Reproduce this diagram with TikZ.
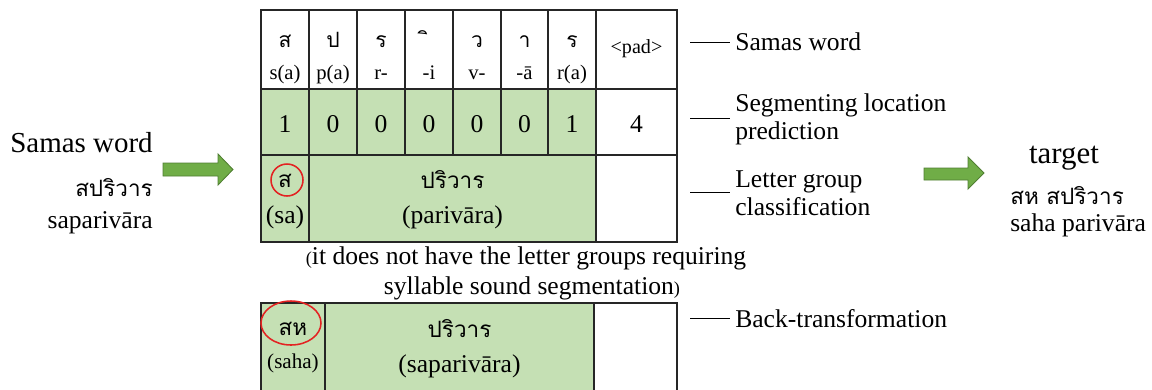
\documentclass[tikz,border=0pt]{standalone}
\usepackage{fontspec}
\setmainfont{Liberation Serif}
\newfontfamily\thai[Script=Thai]{Loma}
\definecolor{cellgreen}{HTML}{C5E0B4}
\definecolor{arrowgreen}{HTML}{70AD47}
\definecolor{arrowedge}{HTML}{507E32}
\definecolor{ringred}{HTML}{E32222}
\begin{document}
\begin{tikzpicture}[x=0.025cm,y=-0.025cm,
  grid/.style={draw=black!85,line width=1.1pt},
  greencell/.style={fill=cellgreen},
  blockarrow/.style={fill=arrowgreen,draw=arrowedge,line width=0.6pt,line join=miter},
  ring/.style={draw=ringred,line width=1.1pt},
  leader/.style={draw=black,line width=0.7pt},
  base/.style={inner sep=0pt,anchor=base},
  roman/.style={base,font=\fontsize{14.7}{16}\selectfont},
  thaiS/.style={base,font=\thai\fontsize{15}{16}\selectfont},
  thaiL/.style={base,font=\thai\fontsize{16}{18}\selectfont},
  big/.style={base,font=\fontsize{18.2}{20}\selectfont},
  label/.style={inner sep=0pt,anchor=west,align=left,font=\fontsize{18.2}{20}\selectfont}]
\clip (0,0) rectangle (1152,389);

% ---- upper table: fills ----
\fill[greencell] (261,89) rectangle (596,242);
% ---- upper table: grid ----
\draw[grid] (261,10) rectangle (677,242);
\draw[grid] (261,89) -- (677,89);
\draw[grid] (261,155) -- (677,155);
\foreach \x in {309,357,405,453,501,548} \draw[grid] (\x,10) -- (\x,155);
\draw[grid] (309,155) -- (309,242);
\draw[grid] (596,10) -- (596,242);

% ---- row 1: letters of the compound ----
\node[thaiS] (l1) at (285,47) {ส};
\node[thaiS] (l2) at (333,47) {ป};
\node[thaiS] (l3) at (381,47) {ร};
\node[thaiS] (l4) at (429,47) {\char"0E34};
\node[thaiS] (l5) at (477,47) {ว};
\node[thaiS] (l6) at (524.5,47) {า};
\node[thaiS] (l7) at (572,47) {ร};
\node[roman] (t1) at (285,79) {s(a)};
\node[roman] (t2) at (333,79) {p(a)};
\node[roman] (t3) at (381,79) {r-};
\node[roman] (t4) at (429,79) {-i};
\node[roman] (t5) at (477,79) {v-};
\node[roman] (t6) at (524.5,79) {-ā};
\node[roman] (t7) at (572,79) {r(a)};
\node[inner sep=0pt,font=\fontsize{14.3}{16}\selectfont] (pad) at (636.5,49) {<pad>};

% ---- row 2: segmenting locations ----
\foreach \x/\v [count=\i] in {285/1,333/0,381/0,429/0,477/0,524.5/0,572/1,636.5/4}
  \node[big] (s\i) at (\x,132) {\v};

% ---- row 3: letter groups ----
\node[thaiL] (g1) at (285,187) {ส};
\node[big] (g1r) at (285,223) {(sa)};
\node[thaiL] (g2) at (452.5,188) {ปริวาร};
\node[big] (g2r) at (452.5,223) {(parivāra)};
\draw[ring] (287,180) circle (16);

% ---- note ----
\node[base,font=\fontsize{18.2}{20}\selectfont] (note1) at (526,264)
  {{\fontsize{13}{14}\selectfont(}it does not have the letter groups requiring};
\node[base,font=\fontsize{18.2}{20}\selectfont] (note2) at (532,294)
  {syllable sound segmentation{\fontsize{13}{14}\selectfont)}};

% ---- lower table ----
\fill[greencell] (261,303) rectangle (594,400);
\draw[grid] (261,400) -- (261,303) -- (677,303) -- (677,400);
\draw[grid] (325,303) -- (325,400);
\draw[grid] (594,303) -- (594,400);
\node[thaiL] (h1) at (293,335) {สห};
\node[base,font=\fontsize{15}{16}\selectfont] (h1r) at (293,368) {(saha)};
\node[thaiL] (h2) at (459.5,337) {ปริวาร};
\node[big] (h2r) at (459.5,372) {(saparivāra)};
\draw[ring] (291,323) ellipse (30 and 22);

% ---- row labels with leader lines ----
\node[label] (lab1) at (735,42) {Samas word};
\node[label] (lab2) at (735,119) {Segmenting location\\prediction};
\node[label] (lab3) at (735,193) {Letter group\\classification};
\node[label] (lab4) at (735,319) {Back-transformation};
\foreach \i/\y in {1/42,2/118,3/192,4/318} {
  \coordinate (lead\i) at (690,\y);
  \draw[leader] (lead\i) -- ([xshift=-0.12cm]lab\i.west |- lead\i);
}

% ---- input ----
\node[inner sep=0pt,anchor=base east,font=\fontsize{20.6}{22}\selectfont] (in1) at (153,152) {Samas word};
\node[inner sep=0pt,anchor=base east,font=\thai\fontsize{16}{18}\selectfont] (in2) at (153,196) {สปริวาร};
\node[inner sep=0pt,anchor=base east,font=\fontsize{18.2}{20}\selectfont] (in3) at (153,228) {saparivāra};
\filldraw[blockarrow] (163,163) -- (218,163) -- (218,154) -- (233,169.5) -- (218,185) -- (218,176) -- (163,176) -- cycle;

% ---- output ----
\filldraw[blockarrow] (924,168) -- (968,168) -- (968,157) -- (984,173) -- (968,189) -- (968,180) -- (924,180) -- cycle;
\node[base,font=\fontsize{22}{24}\selectfont] (out1) at (1064,163) {target};
\node[inner sep=0pt,anchor=base west,font=\thai\fontsize{16}{18}\selectfont] (out2) at (1010,204) {สห สปริวาร};
\node[inner sep=0pt,anchor=base west,font=\fontsize{18.2}{20}\selectfont] (out3) at (1010,231) {saha parivāra};
\end{tikzpicture}
\end{document}
